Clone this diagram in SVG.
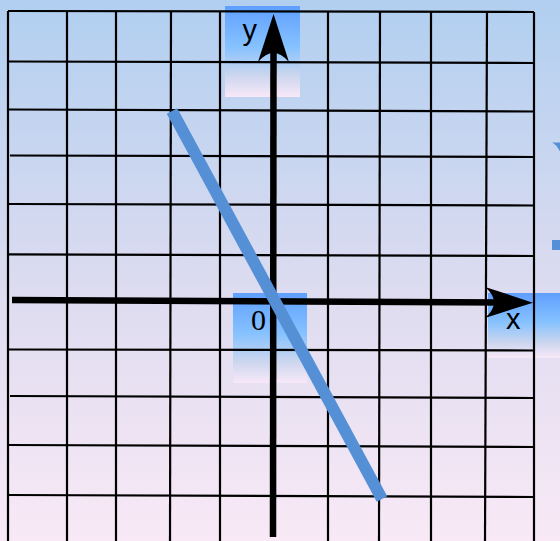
<svg xmlns="http://www.w3.org/2000/svg" width="560" height="541" viewBox="0 0 560 541">
  <defs>
    <linearGradient id="bg" x1="0" y1="0" x2="0" y2="1">
      <stop offset="0" stop-color="#b1cff0"/>
      <stop offset="0.55" stop-color="#dedcf0"/>
      <stop offset="1" stop-color="#f9e9f6"/>
    </linearGradient>
    <linearGradient id="box" x1="0" y1="0" x2="0" y2="1">
      <stop offset="0" stop-color="#5f9fff"/>
      <stop offset="0.45" stop-color="#86c2ff"/>
      <stop offset="0.75" stop-color="#c9d5ee"/>
      <stop offset="1" stop-color="#f8e8f8"/>
    </linearGradient>
    <marker id="arrow" markerUnits="userSpaceOnUse" markerWidth="60" markerHeight="40" viewBox="-55 -20 60 40" refX="-28" refY="0" orient="auto" overflow="visible">
      <path d="M0,0 L-48,-15.5 Q-30,0 -48,15.5 Z" fill="#000"/>
    </marker>
    <style>
      .grid line { stroke: #000; stroke-width: 2.2; }
      .axis { stroke: #000; stroke-width: 6.5; fill: none; marker-end: url(#arrow); }
      .lbl-sans { font-family: "Liberation Sans", Arial, sans-serif; font-size: 29px; fill: #000; }
      .lbl-serif { font-family: "Liberation Serif", "Times New Roman", serif; font-size: 30px; fill: #000; }
      .graph { stroke: #5590d6; stroke-width: 12; stroke-linecap: butt; fill: none; }
    </style>
  </defs>

  <rect x="0" y="0" width="560" height="541" fill="url(#bg)"/>

  <g id="label-y">
    <rect x="225" y="6" width="75" height="91" fill="url(#box)"/>
    <text class="lbl-sans" x="242.5" y="40">y</text>
  </g>
  <g id="label-origin">
    <rect x="233" y="293" width="74" height="90" fill="url(#box)"/>
    <text class="lbl-serif" x="258.5" y="329.5" text-anchor="middle">0</text>
  </g>
  <g id="label-x">
    <rect x="488" y="293" width="74" height="65" fill="url(#box)"/>
    <text class="lbl-sans" x="506" y="328.5">x</text>
  </g>

  <g id="grid" class="grid">
    <line x1="8" y1="11" x2="8" y2="541"/>
    <line x1="67" y1="11" x2="67" y2="541"/>
    <line x1="116" y1="11" x2="116" y2="541"/>
    <line x1="171" y1="11" x2="170" y2="541"/>
    <line x1="220" y1="11" x2="220" y2="541"/>
    <line x1="328" y1="12" x2="328" y2="541"/>
    <line x1="380" y1="12" x2="379" y2="541"/>
    <line x1="431" y1="12" x2="431" y2="541"/>
    <line x1="487" y1="12" x2="485" y2="541"/>
    <line x1="534" y1="12" x2="534" y2="541"/>

    <line x1="8" y1="11" x2="534" y2="12"/>
    <line x1="8" y1="61.5" x2="534" y2="63"/>
    <line x1="8" y1="109.5" x2="534" y2="111.5"/>
    <line x1="10" y1="155.5" x2="534" y2="157"/>
    <line x1="8" y1="204" x2="534" y2="205.5"/>
    <line x1="8" y1="254.3" x2="534" y2="256"/>
    <line x1="8" y1="349.5" x2="534" y2="350.5"/>
    <line x1="10" y1="396" x2="534" y2="398"/>
    <line x1="8" y1="445" x2="534" y2="447"/>
    <line x1="8" y1="495" x2="534" y2="497"/>
  </g>

  <g id="connectors">
    <path id="x-axis" class="axis" d="M12,300 L505,302.5"/>
    <path id="y-axis" class="axis" d="M273,537 L273.5,42"/>
    <path id="graph-line" class="graph" d="M172,111 L382,499"/>
  </g>

  <g id="edge-fragments" fill="#5590d6">
    <path d="M552,142.5 L560,142.5 L560,151.5 Q556,144 552,142.5 Z"/>
    <rect x="552" y="240" width="8" height="10"/>
  </g>
</svg>
